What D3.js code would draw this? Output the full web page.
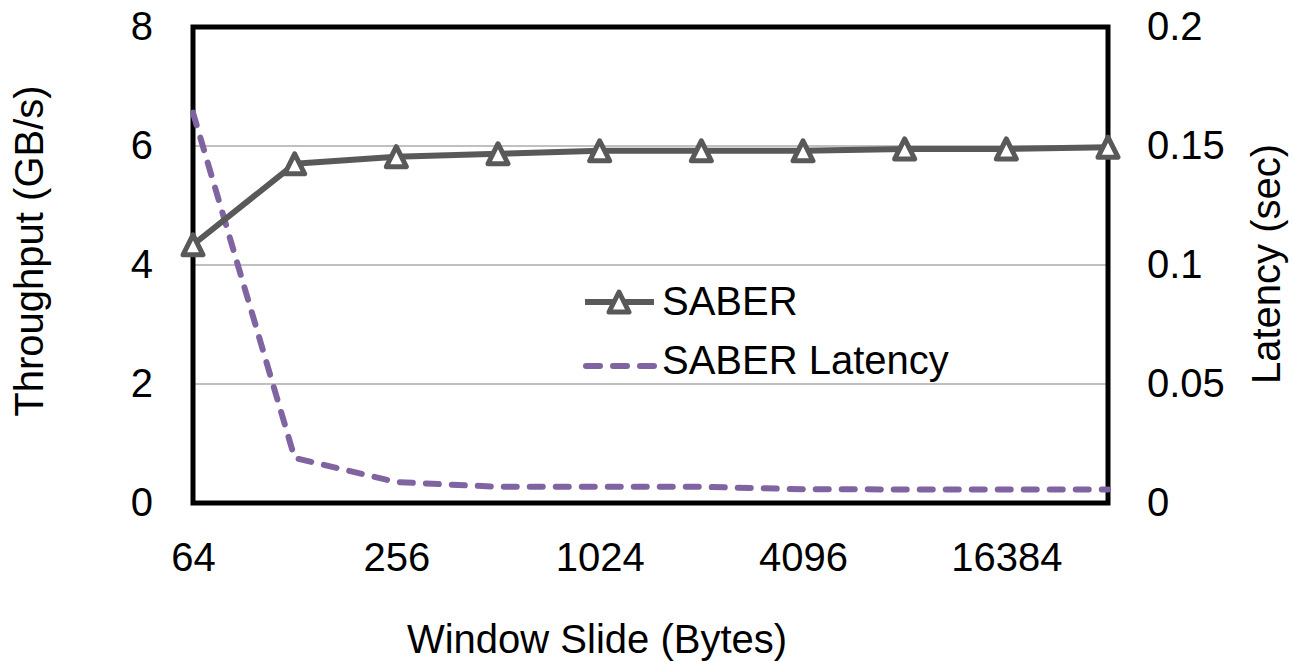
<!DOCTYPE html>
<html>
<head>
<meta charset="utf-8">
<script src="https://cdnjs.cloudflare.com/ajax/libs/d3/7.8.5/d3.min.js"></script>
<style>
  body { margin: 0; background: #fff; }
  text { font-family: "Liberation Sans", Arial, sans-serif; fill: #000; }
</style>
</head>
<body>
<svg id="chart" width="1293" height="661"></svg>
<script>
// window slide sizes (bytes)
const slides = [64, 128, 256, 512, 1024, 2048, 4096, 8192, 16384, 32768];
const tickSlides = [64, 256, 1024, 4096, 16384];
// throughput, GB/s
const throughput = [4.34, 5.70, 5.82, 5.87, 5.92, 5.92, 5.92, 5.95, 5.95, 5.98];
// latency, sec
const latency = [0.164, 0.0189, 0.0088, 0.0068, 0.0068, 0.0068, 0.0058, 0.0057, 0.0057, 0.0057];
const leftTicks = [0, 2, 4, 6, 8];
const rightTicks = [0, 0.05, 0.1, 0.15, 0.2];

const svg = d3.select('#chart');
const margin = { left: 193, right: 185, top: 27, bottom: 158 };
const W = 1293, H = 661;
const x0 = margin.left, x1 = W - margin.right;
const y0 = H - margin.bottom, y1 = margin.top;

const x = d3.scalePoint().domain(slides).range([x0, x1]);
const yL = d3.scaleLinear().domain([0, 8]).range([y0, y1]);
const yR = d3.scaleLinear().domain([0, 0.2]).range([y0, y1]);

const fs = 40;
const grey = '#595959';
const purple = '#8064a2';

// gridlines
svg.append('g')
  .selectAll('line')
  .data(leftTicks.filter(d => d > 0 && d < 8))
  .enter().append('line')
  .attr('x1', x0).attr('x2', x1)
  .attr('y1', d => yL(d)).attr('y2', d => yL(d))
  .attr('stroke', '#c0c0c0')
  .attr('stroke-width', 2);

// axes (labels only, no tick marks)
const leftAxis = d3.axisLeft(yL).tickValues(leftTicks).tickSize(0).tickPadding(40).tickFormat(d3.format('d'));
const gL = svg.append('g').attr('transform', `translate(${x0},0)`).call(leftAxis);
const rightAxis = d3.axisRight(yR).tickValues(rightTicks).tickSize(0).tickPadding(39).tickFormat(d => d === 0 ? '0' : String(d));
const gR = svg.append('g').attr('transform', `translate(${x1},0)`).call(rightAxis);
const bottomAxis = d3.axisBottom(x).tickValues(tickSlides).tickSize(0).tickPadding(40);
const gB = svg.append('g').attr('transform', `translate(0,${y0})`).call(bottomAxis);
[gL, gR, gB].forEach(g => {
  g.select('.domain').remove();
  g.selectAll('text').attr('font-size', fs).attr('font-family', '"Liberation Sans", Arial, sans-serif').attr('fill', '#000');
});

// plot border
svg.append('rect')
  .attr('x', x0).attr('y', y1)
  .attr('width', x1 - x0).attr('height', y0 - y1)
  .attr('fill', 'none')
  .attr('stroke', '#000')
  .attr('stroke-width', 5);

// latency line
const latLine = d3.line().x((d, i) => x(slides[i])).y(d => yR(d));
svg.append('path')
  .datum(latency)
  .attr('d', latLine)
  .attr('fill', 'none')
  .attr('stroke', purple)
  .attr('stroke-width', 6)
  .attr('stroke-dasharray', '13,13')
  .attr('stroke-linecap', 'round');

// throughput line
const tpLine = d3.line().x((d, i) => x(slides[i])).y(d => yL(d));
svg.append('path')
  .datum(throughput)
  .attr('d', tpLine)
  .attr('fill', 'none')
  .attr('stroke', grey)
  .attr('stroke-width', 6)
  .attr('stroke-linejoin', 'round');

// isoceles triangle marker, like spreadsheet markers
const triType = {
  draw(ctx, size) {
    const s = Math.sqrt(size);
    ctx.moveTo(0, -s / 2);
    ctx.lineTo(s / 2, s / 2);
    ctx.lineTo(-s / 2, s / 2);
    ctx.closePath();
  }
};
const tri = d3.symbol().type(triType).size(400);
svg.append('g')
  .selectAll('path')
  .data(throughput)
  .enter().append('path')
  .attr('d', tri)
  .attr('transform', (d, i) => `translate(${x(slides[i])},${yL(d)})`)
  .attr('fill', '#fff')
  .attr('stroke', grey)
  .attr('stroke-width', 5)
  .attr('stroke-linejoin', 'round');

// legend
const lg = svg.append('g');
lg.append('line').attr('x1', 585).attr('x2', 654).attr('y1', 302).attr('y2', 302)
  .attr('stroke', grey).attr('stroke-width', 6);
lg.append('path').attr('d', tri).attr('transform', 'translate(619,302)')
  .attr('fill', '#fff').attr('stroke', grey).attr('stroke-width', 5).attr('stroke-linejoin', 'round');
lg.append('text').attr('x', 662).attr('y', 315).attr('font-size', fs).text('SABER');
lg.append('line').attr('x1', 586).attr('x2', 654).attr('y1', 366).attr('y2', 366)
  .attr('stroke', purple).attr('stroke-width', 6)
  .attr('stroke-dasharray', '14,13').attr('stroke-linecap', 'round');
lg.append('text').attr('x', 662).attr('y', 374).attr('font-size', fs).text('SABER Latency');

// axis titles
svg.append('text')
  .attr('transform', 'translate(43,251) rotate(-90)')
  .attr('text-anchor', 'middle')
  .attr('font-size', fs)
  .text('Throughput (GB/s)');
svg.append('text')
  .attr('transform', 'translate(1280,264) rotate(-90)')
  .attr('text-anchor', 'middle')
  .attr('font-size', fs)
  .text('Latency (sec)');
svg.append('text')
  .attr('x', 597).attr('y', 653)
  .attr('text-anchor', 'middle')
  .attr('font-size', fs)
  .text('Window Slide (Bytes)');
</script>
</body>
</html>
